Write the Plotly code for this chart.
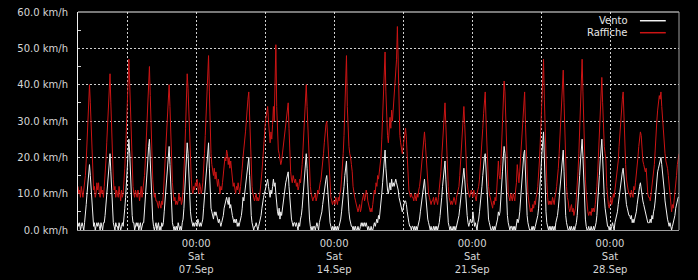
import pandas as pd
import plotly.graph_objects as go

# Hourly values starting 2019-09-01 00:00 (one row per day)
raffiche = [
    12,10,11,9,12,10,9,11,13,15,19,24,30,36,40,35,28,21,15,11,12,9,10,13,      # 01 Sep
    11,13,10,9,12,10,11,9,12,15,19,24,30,36,40,43,35,27,19,14,11,12,9,11,      # 02
    10,9,12,10,8,11,9,10,13,17,22,28,35,42,47,40,31,24,17,12,10,9,11,10,       # 03
    9,11,10,8,10,12,9,11,12,15,19,25,31,37,42,45,37,28,20,14,11,9,10,8,        # 04
    8,7,6,8,7,6,8,7,10,14,18,23,28,33,37,40,34,26,19,13,10,8,9,7,              # 05
    8,7,8,10,8,9,7,8,11,15,21,28,36,43,39,31,24,19,14,11,10,12,11,13,          # 06
    12,14,11,10,13,12,10,11,13,16,21,26,33,40,44,48,38,27,21,18,16,15,17,14,   # 07
    16,13,12,14,11,10,12,11,13,15,18,20,19,22,21,18,20,17,19,16,14,12,13,11,   # 08
    10,12,11,13,11,10,12,14,17,20,22,24,27,30,34,36,38,30,22,16,12,10,9,8,     # 09
    9,10,8,9,8,9,11,13,16,19,23,27,29,31,33,34,30,26,24,27,25,29,34,30,        # 10
    38,51,34,24,22,21,19,18,19,21,22,24,26,28,31,33,35,28,21,16,14,13,15,14,   # 11
    13,14,12,13,11,12,14,13,15,18,22,27,32,36,40,34,27,21,16,12,10,9,8,9,      # 12
    9,10,8,9,11,10,12,13,14,16,18,21,24,27,29,30,25,20,15,11,9,8,7,8,          # 13
    8,7,9,8,7,9,8,10,11,14,17,21,26,32,39,48,34,27,23,21,20,18,16,12,          # 14
    10,9,8,7,6,5,6,7,5,6,8,9,10,8,9,11,10,8,7,6,5,6,5,7,                       # 15
    9,11,10,13,12,15,14,16,17,20,25,31,39,46,49,38,30,26,24,27,31,28,33,30,    # 16
    34,36,39,43,47,56,44,31,26,24,22,21,23,25,27,28,25,19,14,11,10,9,10,9,     # 17
    9,8,10,9,8,10,9,11,12,14,17,20,23,25,27,24,20,16,12,10,9,8,7,8,            # 18
    8,9,7,8,9,8,7,9,11,13,16,20,24,28,32,35,29,22,16,12,9,8,7,8,               # 19
    7,8,9,8,7,9,10,11,12,15,19,24,28,31,34,29,23,17,13,11,10,9,10,11,          # 20
    10,9,11,10,9,8,10,11,12,14,17,20,24,28,32,35,38,30,22,16,12,10,9,8,        # 21
    7,6,8,7,9,8,11,14,19,15,14,18,23,29,35,41,38,29,20,14,10,9,8,10,           # 22
    9,8,10,9,8,11,13,18,15,13,16,20,24,28,33,36,38,29,20,14,10,8,6,5,          # 23
    6,5,7,6,8,7,9,10,12,15,19,24,30,37,42,47,36,26,18,13,9,7,8,7,              # 24
    8,7,9,8,7,9,10,12,14,17,21,26,31,36,40,44,35,25,17,12,9,8,6,5,             # 25
    6,7,5,6,4,5,6,9,12,16,21,28,35,42,47,38,28,20,14,10,7,5,4,5,               # 26
    5,4,6,5,6,5,7,9,12,16,21,27,33,39,42,35,28,23,21,19,12,8,7,6,              # 27
    8,9,7,8,10,9,11,13,14,16,19,23,27,31,34,36,38,30,23,18,14,12,11,10,        # 28
    10,9,11,10,9,12,11,13,15,17,20,23,25,27,26,22,19,18,17,16,17,12,10,9,      # 29
    9,8,10,11,13,15,18,22,28,30,33,35,37,36,38,34,30,27,24,21,19,18,17,15,     # 30
    12,9,6,5,7,6,8,10,12,15,18,20,21,                                          # 01 Oct
]

vento = [
    2,1,2,0,1,2,1,0,2,4,7,10,13,16,18,15,11,6,3,1,2,0,1,2,        # 01 Sep
    1,2,1,0,2,1,0,2,2,4,7,10,14,17,20,21,16,10,5,2,1,0,2,1,       # 02
    1,0,2,1,0,1,2,1,3,6,9,13,17,22,25,21,14,8,4,2,2,0,1,2,        # 03
    1,2,0,1,2,0,1,2,2,5,8,11,15,19,23,25,19,12,6,3,1,0,1,2,       # 04
    0,1,2,0,1,0,2,1,2,5,8,11,14,18,21,23,18,11,5,2,1,0,1,0,       # 05
    1,0,2,1,0,1,0,2,3,6,10,14,19,24,21,15,9,5,3,2,1,2,1,2,        # 06
    2,1,3,2,1,2,1,2,3,6,9,12,16,20,22,24,17,10,6,5,4,3,5,4,       # 07
    5,4,3,2,3,2,1,2,3,4,6,7,8,9,8,7,9,6,7,5,4,3,2,3,              # 08
    2,3,1,2,1,2,3,4,6,9,8,10,12,14,16,18,20,15,8,4,2,1,0,1,       # 09
    1,2,1,0,1,2,3,4,6,8,9,10,11,12,13,14,12,10,9,11,10,12,14,12,  # 10
    13,10,7,5,4,6,3,5,4,6,8,10,12,13,14,15,16,12,8,5,3,2,1,2,     # 11
    2,1,2,1,0,2,1,3,4,6,9,12,15,18,21,17,11,6,3,1,0,1,0,1,        # 12
    1,0,1,2,1,0,2,3,4,5,7,9,11,12,14,15,11,7,4,2,1,0,1,0,         # 13
    1,0,1,0,1,0,1,2,3,5,7,9,12,15,17,19,13,8,5,3,2,1,1,0,         # 14
    1,0,1,0,0,1,0,0,1,2,1,2,1,2,1,2,1,0,1,0,0,1,0,0,              # 15
    1,2,1,2,3,2,4,3,5,7,10,13,17,20,22,17,13,11,10,12,13,11,14,12,  # 16
    13,12,13,14,13,12,11,9,8,7,6,5,6,7,8,8,7,5,3,2,1,1,0,1,       # 17
    1,0,1,0,1,0,1,2,3,5,7,9,11,13,14,11,8,5,3,2,1,0,1,0,          # 18
    0,1,0,1,0,1,0,1,2,4,6,9,12,15,17,19,14,9,4,2,1,0,1,0,         # 19
    0,1,0,1,0,1,2,3,4,6,8,11,13,15,17,14,10,6,4,2,1,2,3,2,        # 20
    2,5,3,1,2,1,0,2,3,5,7,9,12,15,18,20,21,16,10,5,3,2,1,0,       # 21
    0,1,0,1,0,1,2,3,5,4,5,8,12,16,20,23,21,14,8,4,2,1,0,1,        # 22
    1,0,1,0,1,0,2,3,2,3,5,8,11,15,19,21,22,15,8,4,2,1,0,0,        # 23
    0,1,0,1,0,1,2,3,4,6,9,13,17,21,25,27,20,11,5,2,1,0,1,0,       # 24
    1,0,1,0,1,0,2,3,4,6,9,12,15,18,20,22,16,9,4,2,1,0,0,1,        # 25
    0,1,0,0,1,0,1,2,4,7,11,15,19,23,25,20,12,6,3,1,0,0,1,0,       # 26
    0,1,0,0,1,0,1,2,4,7,11,15,19,23,25,20,13,9,6,4,2,1,1,0,       # 27
    1,0,1,2,1,0,2,3,4,5,7,9,11,13,15,16,17,14,11,9,7,6,5,4,       # 28
    4,3,4,2,3,2,3,4,5,7,9,11,12,13,11,9,8,7,6,5,4,3,2,2,          # 29
    2,3,2,4,3,5,6,8,11,14,16,17,18,19,20,18,16,14,11,8,6,4,3,2,   # 30
    1,2,1,0,1,2,3,4,6,7,8,9,9,                                    # 01 Oct
]

start = "2019-09-01 00:00"
end = "2019-10-01 12:00"
y_ticks = [0, 10, 20, 30, 40, 50, 60]
y_labels = ["0.0 km/h", "10.0 km/h", "20.0 km/h", "30.0 km/h", "40.0 km/h", "50.0 km/h", "60.0 km/h"]
x_tick_dates = ["2019-09-07", "2019-09-14", "2019-09-21", "2019-09-28"]
x_tick_labels = ["00:00<br>Sat<br>07.Sep", "00:00<br>Sat<br>14.Sep", "00:00<br>Sat<br>21.Sep", "00:00<br>Sat<br>28.Sep"]
series_names = ["Vento", "Raffiche"]

times = pd.date_range(start, periods=len(vento), freq="h")

# grid every 3.5 days; labels only on Saturdays
grid_vals = []
grid_text = []
for d, lab in zip(x_tick_dates, x_tick_labels):
    t = pd.Timestamp(d)
    grid_vals.append(t - pd.Timedelta(hours=84))
    grid_text.append("")
    grid_vals.append(t)
    grid_text.append(lab)

WHITE = "#f2f2f2"
RED = "#cc1414"
GRID = "#cfcfcf"
TXT = "#d6d6d6"
FONT = "DejaVu Sans"

fig = go.Figure()
fig.add_trace(go.Scatter(x=times, y=raffiche, mode="lines", name=series_names[1],
                         line=dict(color=RED, width=1)))
fig.add_trace(go.Scatter(x=times, y=vento, mode="lines", name=series_names[0],
                         line=dict(color=WHITE, width=1)))

fig.update_layout(
    width=698, height=280,
    margin=dict(l=78, r=19, t=12, b=50),
    paper_bgcolor="black", plot_bgcolor="black",
    showlegend=False,
    font=dict(family=FONT, size=10, color=TXT),
)
fig.update_xaxes(
    range=[pd.Timestamp(start), pd.Timestamp(end)],
    tickmode="array", tickvals=grid_vals, ticktext=grid_text,
    showgrid=True, gridcolor=GRID, gridwidth=1, griddash="2px,2px",
    ticks="", showline=True, linecolor="#a0a0a0", linewidth=1,
    zeroline=False, tickfont=dict(family=FONT, size=10, color=TXT),
    ticklabelstandoff=4, automargin=False,
)
fig.update_yaxes(
    range=[0, 60], tickmode="array", tickvals=y_ticks, ticktext=y_labels,
    showgrid=True, gridcolor=GRID, gridwidth=1, griddash="2px,2px",
    ticks="", showline=True, linecolor="#f0f0f0", linewidth=1,
    zeroline=False, ticklabelstandoff=7, automargin=False,
    tickfont=dict(family=FONT, size=10, color=TXT),
    minor=dict(tickvals=[5, 15, 25, 35, 45, 55], ticks="inside", ticklen=3,
               tickcolor="#d0d0d0", showgrid=False),
)

# frame: top white, right gray
fig.add_shape(type="line", xref="paper", yref="paper", x0=0, x1=1, y0=1, y1=1,
              line=dict(color="#f0f0f0", width=1))
fig.add_shape(type="line", xref="paper", yref="paper", x0=1, x1=1, y0=0, y1=1,
              line=dict(color="#a0a0a0", width=1))

# legend (text right, line sample on the right)
leg_y = [0.960, 0.905]
leg_col = [WHITE, RED]
for name, yy, col in zip(series_names, leg_y, leg_col):
    fig.add_annotation(text=name, xref="paper", yref="paper", x=0.919, y=yy,
                       xanchor="right", yanchor="middle", showarrow=False,
                       font=dict(family=FONT, size=10, color="#e6e6e6"))
    fig.add_shape(type="line", xref="paper", yref="paper", x0=0.935, x1=0.978,
                  y0=yy, y1=yy, line=dict(color=col, width=1.5))

fig.write_html("out.html")
